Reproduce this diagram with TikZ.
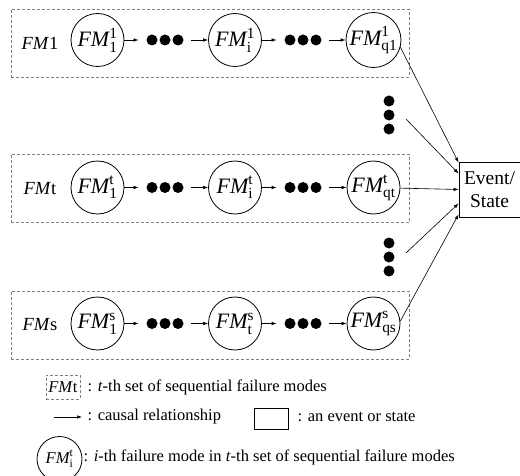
\documentclass[tikz,border=0pt]{standalone}
\usepackage{amsmath}
\usepackage{fontspec}
\setmainfont{Liberation Serif}
\usetikzlibrary{arrows.meta}

\begin{document}
\begin{tikzpicture}[x=1pt,y=-1pt,line width=0.8pt,
  every node/.style={font=\fontsize{18.5}{22}\selectfont},
  legend/.style={font=\fontsize{16.5}{20}\selectfont},
  fm/.style={circle,draw,minimum size=53pt,inner sep=0pt,font=\fontsize{22}{26}\selectfont},
  setbox/.style={draw=gray,dash pattern=on 3pt off 2pt,minimum width=398pt,minimum height=68pt},
  hdots/.style={minimum width=52pt,minimum height=12pt,inner sep=0pt,
    path picture={\fill (path picture bounding box.center) circle (5.5pt) ++(-13pt,0) circle (5.5pt) ++(26pt,0) circle (5.5pt);}},
  vdots/.style={minimum width=12pt,minimum height=42pt,inner sep=0pt,
    path picture={\fill (path picture bounding box.center) circle (5.5pt) ++(0,-14pt) circle (5.5pt) ++(0,28pt) circle (5.5pt);}},
  cause/.style={-{Latex[length=5pt,width=3.5pt]},line width=0.6pt}]
\useasboundingbox (0,0) rectangle (520,476);

% set 1
\node[setbox] (set1) at (210,43) {};
\node (lab1) at (40,43) {\textit{FM}1};
\node[fm] (c11) at (97.5,40) {$\textit{FM}^{\textrm{1}}_{\textrm{1}}$};
\node[hdots] (d11) at (165,40) {};
\node[fm] (c12) at (235,40) {$\textit{FM}^{\textrm{1}}_{\textrm{i}}$};
\node[hdots] (d12) at (303,40) {};
\node[fm] (c13) at (373.5,40) {$\textit{FM}^{\textrm{1}}_{\textrm{q1}}$};
\draw[cause] (c11) -- (d11);
\draw[cause] (d11) -- (c12);
\draw[cause] (c12) -- (d12);
\draw[cause] (d12) -- (c13);

% set t
\node[setbox] (set2) at (210,188.5) {};
\node (lab2) at (40,188.5) {\textit{FM}t};
\node[fm] (c21) at (97.5,187.5) {$\textit{FM}^{\textrm{t}}_{\textrm{1}}$};
\node[hdots] (d21) at (165,187.5) {};
\node[fm] (c22) at (235,187.5) {$\textit{FM}^{\textrm{t}}_{\textrm{i}}$};
\node[hdots] (d22) at (303,187.5) {};
\node[fm] (c23) at (373.5,187.5) {$\textit{FM}^{\textrm{t}}_{\textrm{qt}}$};
\draw[cause] (c21) -- (d21);
\draw[cause] (d21) -- (c22);
\draw[cause] (c22) -- (d22);
\draw[cause] (d22) -- (c23);

% set s
\node[setbox] (set3) at (210,325) {};
\node (lab3) at (40,325) {\textit{FM}s};
\node[fm] (c31) at (97.5,323.5) {$\textit{FM}^{\textrm{s}}_{\textrm{1}}$};
\node[hdots] (d31) at (165,323.5) {};
\node[fm] (c32) at (235,323.5) {$\textit{FM}^{\textrm{s}}_{\textrm{t}}$};
\node[hdots] (d32) at (303,323.5) {};
\node[fm] (c33) at (373.5,323.5) {$\textit{FM}^{\textrm{s}}_{\textrm{qs}}$};
\draw[cause] (c31) -- (d31);
\draw[cause] (d31) -- (c32);
\draw[cause] (c32) -- (d32);
\draw[cause] (d32) -- (c33);

% skipped sets
\node[vdots] (v1) at (389,115) {};
\node[vdots] (v2) at (389,257) {};
\coordinate (v1out) at (406,119);
\coordinate (v2out) at (406,253);

% event
\node[draw,minimum width=61pt,minimum height=55pt,inner sep=0pt,align=center,font=\fontsize{19.5}{23}\selectfont] (ev) at (489.5,189.5) {Event/\\State};
\draw[cause] (c13.-15) -- ([yshift=-1pt]ev.north west);
\draw[cause] (v1out) -- ([yshift=-12pt]ev.north west);
\draw[cause] (c23) -- (ev.west);
\draw[cause] (v2out) -- ([yshift=14pt]ev.south west);
\draw[cause] (c33.5) -- ([yshift=3pt]ev.south west);

% legend
\node[legend,draw=gray,dash pattern=on 3pt off 2pt,minimum width=34pt,minimum height=24pt,inner sep=1pt] (lgset) at (63,387) {\textit{FM}t};
\node[legend,anchor=west] (lgsettxt) at (84,387) {: \textit{t}-th set of sequential failure modes};
\coordinate (lga) at (54,417);
\coordinate (lgb) at (82,417);
\draw[cause] (lga) -- (lgb);
\node[legend,anchor=west] (lgcausetxt) at (84,417) {: causal relationship};
\node[draw,minimum width=34pt,minimum height=21pt] (lgev) at (271,418.5) {};
\node[legend,anchor=west] (lgevtxt) at (294,417) {: an event or state};
\node[legend,circle,draw,minimum size=45pt,inner sep=0pt] (lgfm) at (59.5,459) {$\textit{FM}^{\textrm{t}}_{\textrm{i}}$};
\node[legend,anchor=west] (lgfmtxt) at (80,457) {: \textit{i}-th failure mode in \textit{t}-th set of sequential failure modes};
\end{tikzpicture}
\end{document}
